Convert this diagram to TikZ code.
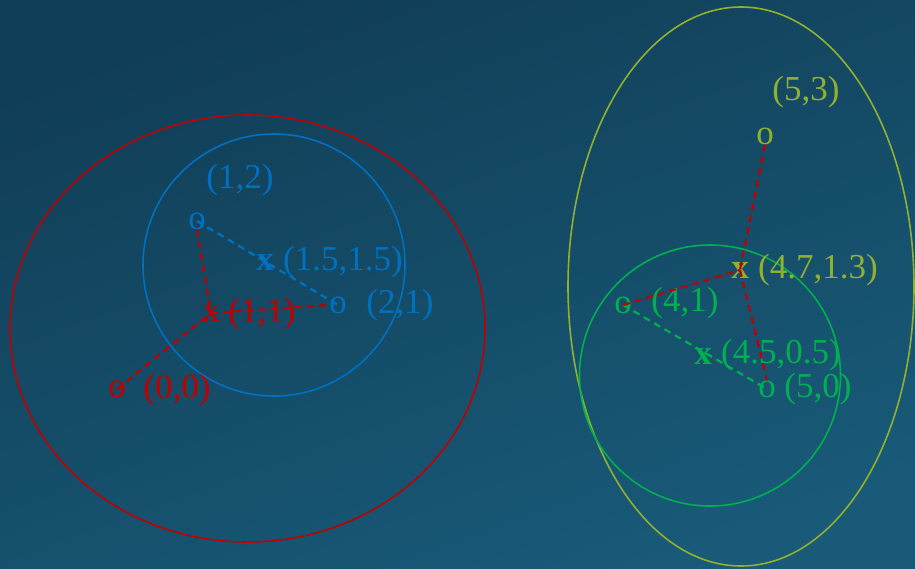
\documentclass[tikz,border=0pt]{standalone}
\usepackage{fontspec}
\setmainfont{Liberation Serif}
\usetikzlibrary{positioning}

\definecolor{bgtop}{RGB}{17,62,87}
\definecolor{bgbot}{RGB}{24,90,120}
\definecolor{ptred}{RGB}{192,0,0}
\definecolor{ptblue}{RGB}{0,112,192}
\definecolor{ptgreen}{RGB}{0,176,80}
\definecolor{ptolive}{RGB}{146,176,48}

\begin{document}
\begin{tikzpicture}[
    x=1pt, y=-1pt,
    pt/.style={inner sep=0pt, font=\fontsize{35}{40}\selectfont},
    lbl/.style={inner sep=0pt, font=\fontsize{35}{40}\selectfont},
    link/.style={dash pattern=on 7pt off 5pt, line width=2.2pt},
    ring/.style={line width=1.6pt}
]
\useasboundingbox (0,0) rectangle (915,568);
\shade[top color=bgtop, bottom color=bgbot, shading angle=20] (0,0) rectangle (915,568);

% clusters
\draw[ring, ptred]    (247.5,328.5) ellipse [x radius=237.5, y radius=213.5];
\draw[ring, ptblue]   (274,265) circle [radius=131];
\draw[ring, ptolive]  (741,286.5) ellipse [x radius=173, y radius=279.5];
\draw[ring, ptgreen]  (710,375.5) circle [radius=130.5];

% left group
\node[pt, ptblue] (p12) at (197,221) {o};
\node[lbl, ptblue] (l12) at (240,180) {(1,2)};
\node[pt, ptblue] (p21) at (338,305) {o};
\node[lbl, ptblue] (l21) at (400,305) {(2,1)};
\node[pt, ptblue] (c1) at (265,262) {\textbf{x}};
\node[lbl, ptblue] (lc1) at (343,262) {(1.5,1.5)};
\node[pt, ptred] (p00) at (117,389) {o};
\node[lbl, ptred] (l00) at (177,390) {(0,0)};
\node[pt, ptred] (p11) at (211,313) {x};
\node[lbl, ptred] (l11) at (262,314) {(1,1)};

% right group
\node[pt, ptolive] (p53) at (765,136) {o};
\node[lbl, ptolive] (l53) at (806,92) {(5,3)};
\node[pt, ptolive] (c2) at (740,270) {\textbf{x}};
\node[lbl, ptolive] (lc2) at (818,270) {(4.7,1.3)};
\node[pt, ptgreen] (p41) at (623,305) {o};
\node[lbl, ptgreen] (l41) at (685,303) {(4,1)};
\node[pt, ptgreen] (c3) at (703,356) {\textbf{x}};
\node[lbl, ptgreen] (lc3) at (781,355) {(4.5,0.5)};
\node[pt, ptgreen] (p50) at (767,389) {o};
\node[lbl, ptgreen] (l50) at (818,389) {(5,0)};

% distances
\draw[link, ptblue] (p12.center) -- (p21.center);
\draw[link, ptred] (p00.center) -- (p11.center);
\draw[link, ptred] (p12.south) -- (p11.center);
\draw[link, ptred] (p11.center) -- (p21.west);
\draw[link, ptgreen] (p41.center) -- (p50.center);
\draw[link, ptred] (p53.south) -- (c2.center);
\draw[link, ptred] (p41.center) -- (c2.center);
\draw[link, ptred] (c2.center) -- (p50.north);
\end{tikzpicture}
\end{document}
